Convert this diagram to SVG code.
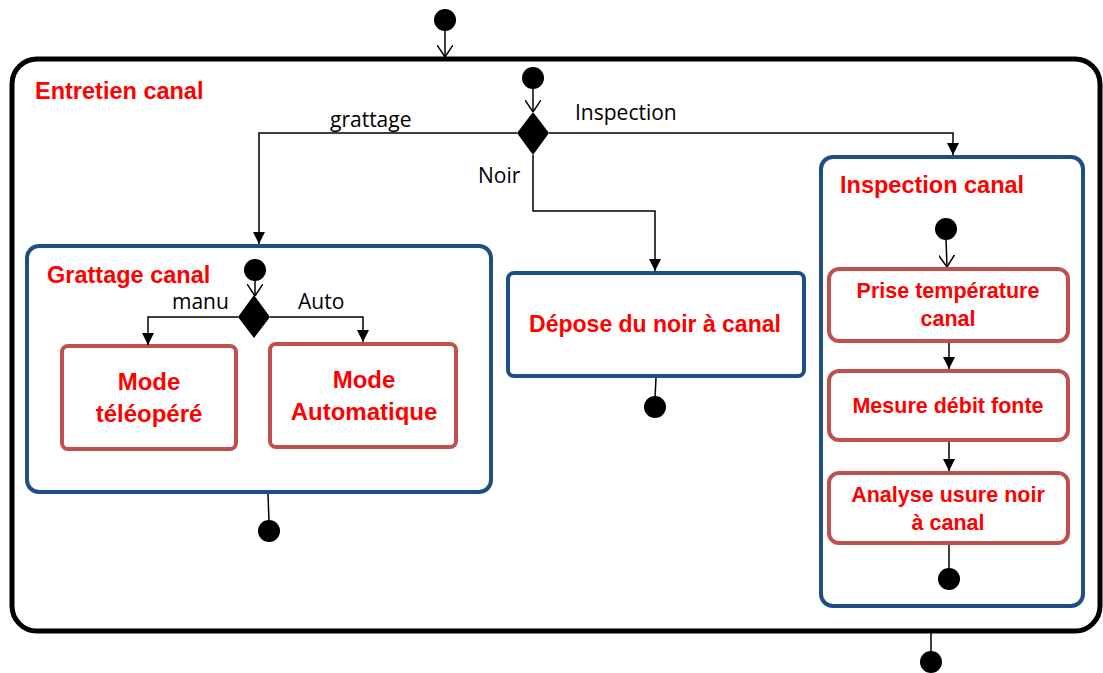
<svg xmlns="http://www.w3.org/2000/svg" width="1103" height="673" viewBox="0 0 1103 673">
<style>
.title{font-family:"Liberation Sans",Arial,sans-serif;font-weight:bold;font-size:23.5px;fill:#FF0000}
.act{font-family:"Liberation Sans",Arial,sans-serif;font-weight:bold;fill:#FF0000;text-anchor:middle}
.lbl{font-family:"Open Sans","DejaVu Sans",sans-serif;font-size:21px;fill:#000}
.comp{fill:#fff;stroke:#1F4E85;stroke-width:4}
.box{fill:#fff;stroke:#C0504D;stroke-width:4}
.ln{fill:none;stroke:#000;stroke-width:1.5}
.dot{fill:#000}
</style>
<defs>
<marker id="fa" viewBox="0 0 12 12" refX="12" refY="6" markerWidth="12" markerHeight="12" markerUnits="userSpaceOnUse" orient="auto">
<path d="M0,0 L12,6 L0,12 z" fill="#000"/>
</marker>
<marker id="oa" viewBox="0 0 12 16" refX="12" refY="8" markerWidth="12" markerHeight="16" markerUnits="userSpaceOnUse" orient="auto">
<path d="M0,0 L12,8 L0,16" fill="none" stroke="#000" stroke-width="1.5"/>
</marker>
</defs>
<rect width="1103" height="673" fill="#fff"/>

<g id="entretien">
<rect x="12" y="59" width="1088" height="572" rx="25" fill="#fff" stroke="#000" stroke-width="5"/>
<text class="title" x="35" y="99">Entretien canal</text>
</g>

<g id="start-outer"><circle class="dot" cx="445" cy="20" r="11"/></g>
<g id="start-inner"><circle class="dot" cx="533" cy="78" r="11"/></g>
<g id="decision-main"><polygon class="dot" points="533,112 549,133 533,155 517,133"/></g>

<g id="grattage">
<rect class="comp" x="27" y="246" width="464" height="246" rx="12"/>
<text class="title" x="47" y="283">Grattage canal</text>
<circle class="dot" cx="255" cy="270" r="11"/>
<polygon class="dot" points="254,295 270,317 254,338 238,317"/>
</g>
<g id="mode-teleopere">
<rect class="box" x="62" y="346" width="174" height="103" rx="6"/>
<text class="act" font-size="24" x="149" y="390">Mode</text>
<text class="act" font-size="24" x="149" y="422">téléopéré</text>
</g>
<g id="mode-auto">
<rect class="box" x="270" y="344" width="186" height="103" rx="6"/>
<text class="act" font-size="24" x="364" y="388">Mode</text>
<text class="act" font-size="24" x="364" y="420">Automatique</text>
</g>
<g id="end-grattage"><circle class="dot" cx="269" cy="531" r="11"/></g>

<g id="depose">
<rect class="comp" x="508" y="273" width="296" height="103" rx="6"/>
<text class="act" font-size="23" x="655" y="332">Dépose du noir à canal</text>
</g>
<g id="end-depose"><circle class="dot" cx="655" cy="407" r="11"/></g>

<g id="inspection">
<rect class="comp" x="821" y="157" width="262" height="449" rx="12"/>
<text class="title" x="840" y="193">Inspection canal</text>
<circle class="dot" cx="946" cy="229" r="11"/>
</g>
<g id="prise">
<rect class="box" x="829" y="269" width="239" height="72" rx="10"/>
<text class="act" font-size="21.5" x="948" y="298">Prise température</text>
<text class="act" font-size="21.5" x="948" y="326">canal</text>
</g>
<g id="mesure">
<rect class="box" x="829" y="371" width="239" height="69" rx="10"/>
<text class="act" font-size="21.5" x="948" y="413">Mesure débit fonte</text>
</g>
<g id="analyse">
<rect class="box" x="829" y="473" width="239" height="70" rx="10"/>
<text class="act" font-size="21.5" x="948" y="502">Analyse usure noir</text>
<text class="act" font-size="21.5" x="948" y="530">à canal</text>
</g>
<g id="end-inspection"><circle class="dot" cx="949" cy="579" r="11"/></g>
<g id="end-outer"><circle class="dot" cx="931" cy="662" r="11"/></g>

<g id="connectors">
<line class="ln" x1="445" y1="30" x2="445" y2="57" marker-end="url(#oa)"/>
<line class="ln" x1="533" y1="88" x2="533" y2="112" marker-end="url(#oa)"/>
<polyline class="ln" points="517,133 259,133 259,244" marker-end="url(#fa)"/>
<polyline class="ln" points="549,133 953,133 953,155" marker-end="url(#fa)"/>
<polyline class="ln" points="533,155 533,211 655,211 655,271" marker-end="url(#fa)"/>
<line class="ln" x1="255" y1="280" x2="255" y2="296" marker-end="url(#oa)"/>
<polyline class="ln" points="238,317 148,317 148,345" marker-end="url(#fa)"/>
<polyline class="ln" points="270,317 363,317 363,342" marker-end="url(#fa)"/>
<line class="ln" x1="268" y1="494" x2="269" y2="522"/>
<line class="ln" x1="656" y1="378" x2="655" y2="398"/>
<line class="ln" x1="946" y1="239" x2="947" y2="267" marker-end="url(#oa)"/>
<line class="ln" x1="949" y1="343" x2="949" y2="369" marker-end="url(#fa)"/>
<line class="ln" x1="949" y1="442" x2="949" y2="471" marker-end="url(#fa)"/>
<line class="ln" x1="949" y1="545" x2="949" y2="570"/>
<line class="ln" x1="931" y1="633" x2="931" y2="653"/>
<text class="lbl" x="330" y="127">grattage</text>
<text class="lbl" x="575" y="120">Inspection</text>
<text class="lbl" x="478" y="183">Noir</text>
<text class="lbl" x="172" y="309">manu</text>
<text class="lbl" x="298" y="309">Auto</text>
</g>
</svg>
